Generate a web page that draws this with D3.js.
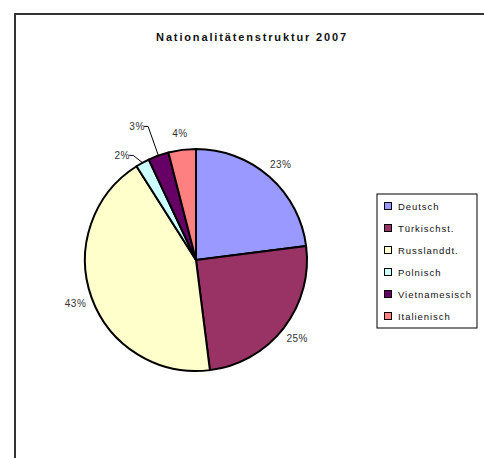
<!DOCTYPE html>
<html>
<head>
<meta charset="utf-8">
<script src="https://cdn.jsdelivr.net/npm/d3@7"></script>
<style>
  html, body { margin: 0; padding: 0; background: #fff; }
  svg { display: block; font-family: "Liberation Sans", Arial, sans-serif; }
</style>
</head>
<body>
<svg id="chart" width="484" height="458"></svg>
<script>
// Nationalitätenstruktur 2007 – Anteile in Prozent
const categories = ["Deutsch", "Türkischst.", "Russlanddt.", "Polnisch", "Vietnamesisch", "Italienisch"];
const shares = [23, 25, 43, 2, 3, 4];
const colors = ["#9999FF", "#993366", "#FFFFCC", "#CCFFFF", "#660066", "#FF8080"];
const title = "Nationalitätenstruktur 2007";

const svg = d3.select("#chart");

// outer chart frame (right/bottom edges run off the page)
svg.append("rect")
  .attr("x", 15).attr("y", 14)
  .attr("width", 480).attr("height", 460)
  .attr("fill", "#fff").attr("stroke", "#333").attr("stroke-width", 2);

svg.append("text")
  .attr("x", 252).attr("y", 41)
  .attr("text-anchor", "middle")
  .attr("font-size", 11).attr("font-weight", "bold")
  .attr("letter-spacing", 1.85)
  .attr("fill", "#111")
  .text(title);

const cx = 196, cy = 260, R = 111;
const g = svg.append("g").attr("transform", `translate(${cx},${cy})`);

const pie = d3.pie().sort(null).value(d => d.v);
const data = categories.map((c, i) => ({ c, v: shares[i], color: colors[i] }));
const arcs = pie(data);

const arc = d3.arc().innerRadius(0).outerRadius(R);

g.selectAll("path.slice")
  .data(arcs)
  .join("path")
  .attr("class", "slice")
  .attr("d", arc)
  .attr("fill", d => d.data.color)
  .attr("stroke", "#000")
  .attr("stroke-width", 2)
  .attr("stroke-linejoin", "round");

// label placement: polar position by mid-angle; the two narrow slices
// are pushed outward/rotated and joined with a leader line
const polar = (r, a) => [r * Math.sin(a), -r * Math.cos(a)];
const deg = Math.PI / 180;
const labelShift = { "Polnisch": { r: 128, da: -6.4 }, "Vietnamesisch": { r: 146, da: -4 } };

arcs.forEach(d => {
  const mid = (d.startAngle + d.endAngle) / 2;
  const sh = labelShift[d.data.c];
  const r = sh ? sh.r : 128;
  const a = mid + (sh ? sh.da * deg : 0);
  const [lx, ly] = polar(r, a);
  const txt = d.value + "%";
  g.append("text")
    .attr("x", lx).attr("y", ly + 3.5)
    .attr("text-anchor", "middle")
    .attr("font-size", 10)
    .attr("letter-spacing", 0.5)
    .attr("fill", "#333")
    .text(txt);
  if (sh) {
    const [ex, ey] = polar(R, mid);
    const half = txt.length * 3.5;
    const elbowX = lx + half + 4;
    g.append("polyline")
      .attr("points", [[lx + half, ly], [elbowX, ly], [ex, ey]].map(p => p.join(",")).join(" "))
      .attr("fill", "none")
      .attr("stroke", "#000")
      .attr("stroke-width", 1);
  }
});

// legend
const lg = svg.append("g").attr("transform", "translate(377,194)");
lg.append("rect")
  .attr("width", 100).attr("height", 134)
  .attr("fill", "#fff").attr("stroke", "#000").attr("stroke-width", 1);

const row = lg.selectAll("g.item")
  .data(data)
  .join("g")
  .attr("class", "item")
  .attr("transform", (d, i) => `translate(7,${12 + i * 22})`);

row.append("rect")
  .attr("x", 0.5).attr("y", -3.5)
  .attr("width", 7).attr("height", 7)
  .attr("fill", d => d.color)
  .attr("stroke", "#000").attr("stroke-width", 1);

row.append("text")
  .attr("x", 14).attr("y", 3.5)
  .attr("font-size", 9.5)
  .attr("letter-spacing", 0.95)
  .attr("fill", "#111")
  .text(d => d.c);
</script>
</body>
</html>
